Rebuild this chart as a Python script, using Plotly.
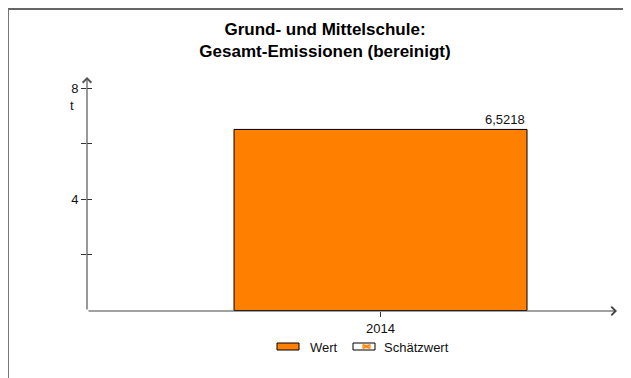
import plotly.graph_objects as go

# ---- data ----
categories = ["2014"]
values = [6.5218]
value_labels = ["6,5218"]
series_names = ["Wert", "Schätzwert"]
tick_values = [2, 4, 6, 8]
tick_labels = ["", "4", "", "8"]
unit_label = "t"
title_lines = ["Grund- und Mittelschule:", "Gesamt-Emissionen (bereinigt)"]

W, H = 631, 378
OFF = 8  # page body margin offset
L, T = 87 - OFF, 77 - OFF
R = W - (617 - OFF)
B = H - (311 - OFF)
PW, PH = W - L - R, H - T - B

def px_x(px):
    return (px - OFF - L) / PW

def px_y(py):
    return (H - B - (py - OFF)) / PH

ORANGE = "#FF8000"
FONT = "Liberation Sans, Arial, sans-serif"
BAR_W = 0.5528
FS = 13

fig = go.Figure()
fig.add_trace(go.Bar(
    x=categories, y=values, width=[BAR_W],
    marker=dict(color=ORANGE, line=dict(color="#000000", width=1)),
    name=series_names[0], showlegend=False, hoverinfo="skip"))
# invisible trace on overlay axis so inside ticks render
fig.add_trace(go.Scatter(x=categories, y=[None], yaxis="y2", showlegend=False,
                         mode="markers", marker=dict(opacity=0)))

# value label at bar top-right
fig.add_annotation(x=BAR_W / 2, y=values[0], xref="x", yref="y",
                   text=value_labels[0], showarrow=False,
                   xanchor="right", yanchor="bottom", yshift=0,
                   font=dict(family=FONT, size=FS, color="#111"))

yr = [-0.018, 8.41]
fig.update_layout(
    width=W, height=H,
    margin=dict(l=L, r=R, t=T, b=B, pad=0),
    paper_bgcolor="white", plot_bgcolor="white",
    showlegend=False,
    font=dict(family=FONT, size=FS, color="#111"),
    title=dict(text="<b>" + "<br>".join(title_lines) + "</b>",
               x=(325 - OFF) / W, xanchor="center", xref="container",
               y=1 - (35 - OFF) / H, yanchor="middle", yref="container",
               font=dict(family=FONT, size=17, color="#000")),
    xaxis=dict(type="category", range=[-0.5538, 0.4462],
               showgrid=False, zeroline=False, showline=False,
               ticks="outside", ticklen=5, tickcolor="#333", tickwidth=1,
               tickfont=dict(size=FS, color="#111")),
    yaxis=dict(range=yr, showgrid=False, zeroline=False, showline=False,
               tickmode="array", tickvals=tick_values, ticktext=tick_labels,
               ticks="outside", ticklen=5, tickcolor="#333", tickwidth=1,
               tickfont=dict(size=FS, color="#111")),
    yaxis2=dict(range=yr, overlaying="y", side="left", showgrid=False,
                zeroline=False, showline=False, tickmode="array",
                tickvals=tick_values, showticklabels=False,
                ticks="inside", ticklen=5, tickcolor="#333", tickwidth=1),
)

# axes with arrows
fig.add_annotation(xref="paper", yref="paper", x=1, y=0, ax=-PW, ay=0,
                   axref="pixel", ayref="pixel", text="", showarrow=True,
                   arrowhead=4, arrowsize=1.4, arrowwidth=1.2, arrowcolor="#444")
fig.add_annotation(xref="paper", yref="paper", x=0, y=1, ax=0, ay=PH,
                   axref="pixel", ayref="pixel", text="", showarrow=True,
                   arrowhead=4, arrowsize=1.4, arrowwidth=1.2, arrowcolor="#555")

# unit label
fig.add_annotation(xref="paper", yref="paper", x=px_x(72), y=px_y(105),
                   text=unit_label, showarrow=False, xanchor="center",
                   yanchor="middle", font=dict(size=FS, color="#111"))

# outer frame (top + left)
fig.add_shape(type="line", xref="paper", yref="paper",
              x0=px_x(7), x1=px_x(W + 20), y0=px_y(9), y1=px_y(9),
              line=dict(color="#333", width=1.5))
fig.add_shape(type="line", xref="paper", yref="paper",
              x0=px_x(8), x1=px_x(8), y0=px_y(9), y1=px_y(H + 20),
              line=dict(color="#777", width=2))

# custom legend
sy0, sy1 = px_y(343), px_y(350)
fig.add_shape(type="rect", xref="paper", yref="paper",
              x0=px_x(277), x1=px_x(299), y0=sy0, y1=sy1,
              fillcolor=ORANGE, line=dict(color="#000", width=1))
fig.add_annotation(xref="paper", yref="paper", x=px_x(308), y=px_y(347),
                   text=series_names[0], showarrow=False, xanchor="left",
                   yanchor="middle", font=dict(size=FS, color="#111"))
fig.add_shape(type="rect", xref="paper", yref="paper",
              x0=px_x(353), x1=px_x(375), y0=sy0, y1=sy1,
              fillcolor="white", line=dict(color="#000", width=1))
fig.add_shape(type="rect", xref="paper", yref="paper",
              x0=px_x(362), x1=px_x(371), y0=px_y(344.5), y1=px_y(348.5),
              fillcolor="#FFB060", line=dict(width=0))
fig.add_shape(type="line", xref="paper", yref="paper",
              x0=px_x(363), x1=px_x(370), y0=px_y(344.5), y1=px_y(348.5),
              line=dict(color=ORANGE, width=1.2))
fig.add_shape(type="line", xref="paper", yref="paper",
              x0=px_x(363), x1=px_x(370), y0=px_y(348.5), y1=px_y(344.5),
              line=dict(color=ORANGE, width=1.2))
fig.add_annotation(xref="paper", yref="paper", x=px_x(382), y=px_y(347),
                   text=series_names[1], showarrow=False, xanchor="left",
                   yanchor="middle", font=dict(size=FS, color="#111"))

fig.write_html("out.html")
